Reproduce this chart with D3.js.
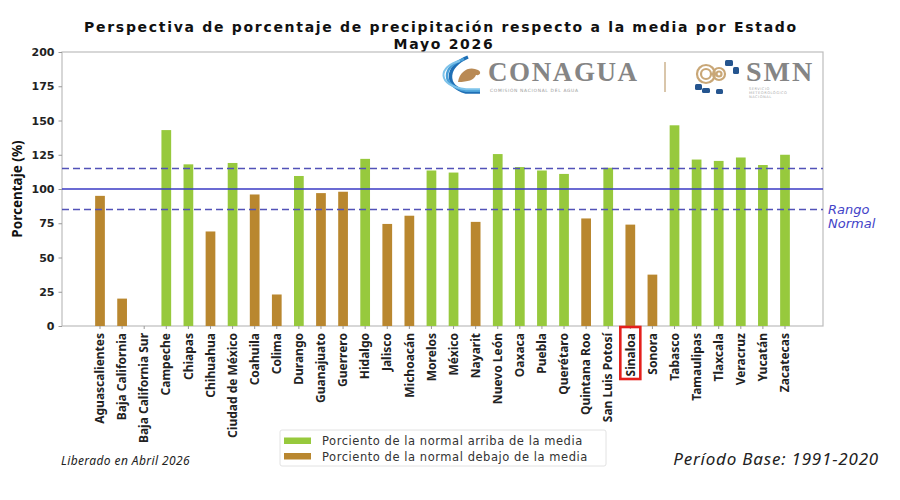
<!DOCTYPE html>
<html lang="es">
<head>
    <meta charset="UTF-8">
    <title>Perspectiva de porcentaje de precipitación</title>
    <script src="https://d3js.org/d3.v7.min.js"></script>
    <style>
        body { margin: 0; background: #fff; }
        .tick-y text { font-family: "DejaVu Sans", sans-serif; font-weight: bold; font-size: 11px; fill: #222; }
        .tick-x text { font-family: "Noto Sans", "Open Sans", sans-serif; font-weight: bold; font-size: 12px; fill: #222; }
        .domain { display: none; }
        .tick line { stroke: #999; }
    </style>
</head>
<body>
<svg id="chart" width="900" height="500"></svg>
<script>
    // Datos
    const estados = ["Aguascalientes", "Baja California", "Baja California Sur", "Campeche", "Chiapas",
        "Chihuahua", "Ciudad de México", "Coahuila", "Colima", "Durango", "Guanajuato", "Guerrero",
        "Hidalgo", "Jalisco", "Michoacán", "Morelos", "México", "Nayarit", "Nuevo León", "Oaxaca",
        "Puebla", "Querétaro", "Quintana Roo", "San Luis Potosí", "Sinaloa", "Sonora", "Tabasco",
        "Tamaulipas", "Tlaxcala", "Veracruz", "Yucatán", "Zacatecas"];
    const porcentajes = [95, 20, 0, 143, 118, 69, 119, 96, 23, 109.5, 97, 98, 122, 74.5, 80.5, 113.5,
        112, 76, 125.5, 116, 113.5, 111, 78.5, 115.5, 74, 37.5, 146.5, 121.5, 120.5, 123, 117.5, 125];
    const yTicks = [0, 25, 50, 75, 100, 125, 150, 175, 200];
    const media = 100;
    const rangoNormal = [85, 115];
    const estadoResaltado = "Sinaloa";

    const VERDE = "#97c93d";
    const CAFE = "#b9872f";

    const M = { left: 62, right: 823, top: 52, bottom: 326 };
    const svg = d3.select("#chart");

    const x = d3.scaleBand().domain(estados).range([M.left, M.right])
        .paddingInner(0.56).paddingOuter(1.5);
    const y = d3.scaleLinear().domain([0, 200]).range([M.bottom, M.top]);

    // Título
    const title = svg.append("text")
        .attr("x", 441).attr("y", 32)
        .attr("text-anchor", "middle")
        .style("font-family", "DejaVu Sans, sans-serif")
        .style("font-weight", "bold")
        .style("font-size", "14px")
        .style("letter-spacing", "1.7px")
        .style("fill", "#111");
    title.append("tspan").attr("x", 441).attr("dy", 0)
        .text("Perspectiva de porcentaje de precipitación respecto a la media por Estado");
    title.append("tspan").attr("x", 444).attr("dy", 16.5).text("Mayo 2026");

    // Marco
    svg.append("rect")
        .attr("x", M.left).attr("y", M.top)
        .attr("width", M.right - M.left).attr("height", M.bottom - M.top)
        .attr("fill", "none").attr("stroke", "#bdbdbd").attr("stroke-width", 1.2);

    // Logos (aproximados)
    const logo = svg.append("g");
    // icono CONAGUA
    [[0, "#1f6fb5", 3.5], [4, "#4aa0d8", 2.5], [8, "#7ec3ea", 2]].forEach(([o, c, w]) => {
        logo.append("path")
            .attr("d", `M${468 - o},${57 + o / 2} C${446 - o},${66} ${444 - o},${86} ${466},${92 - o / 3} L${480},${92 - o / 3}`)
            .attr("fill", "none").attr("stroke", c).attr("stroke-width", w);
    });
    logo.append("path")
        .attr("d", "M458,82 C460,70 470,66 478,70 C482,72 480,76 476,75 C474,80 468,82 458,82 Z")
        .attr("fill", "#b98a55");
    logo.append("text").attr("x", 488).attr("y", 81)
        .style("font-family", "Liberation Serif, serif").style("font-weight", "bold")
        .style("font-size", "27px").style("letter-spacing", "1.6px")
        .style("fill", "#858585").text("CONAGUA");
    logo.append("text").attr("x", 490).attr("y", 92)
        .style("font-family", "DejaVu Sans, sans-serif").style("font-size", "4.4px")
        .style("fill", "#999").style("letter-spacing", "0.7px").text("COMISIÓN NACIONAL DEL AGUA");
    logo.append("line").attr("x1", 665).attr("x2", 665).attr("y1", 62).attr("y2", 92)
        .attr("stroke", "#d9c6ab").attr("stroke-width", 2);
    // icono SMN
    [[706, 74, 9], [706, 74, 5], [719, 74, 6], [719, 74, 2.5]].forEach(([cx, cy, r]) => {
        logo.append("circle").attr("cx", cx).attr("cy", cy).attr("r", r)
            .attr("fill", "none").attr("stroke", "#c9a777").attr("stroke-width", 2.2);
    });
    [[725, 60, 8, 6], [733, 67, 6, 7], [695, 84, 7, 6], [702, 88, 8, 5], [716, 89, 7, 5]].forEach(([rx, ry, w, h]) => {
        logo.append("rect").attr("x", rx).attr("y", ry).attr("width", w).attr("height", h)
            .attr("rx", 1.5).attr("fill", "#25558f");
    });
    logo.append("text").attr("x", 746).attr("y", 81)
        .style("font-family", "Liberation Serif, serif").style("font-weight", "bold")
        .style("font-size", "28px").style("letter-spacing", "2px")
        .style("fill", "#858585").text("SMN");
    ["SERVICIO", "METEOROLÓGICO", "NACIONAL"].forEach((t, i) => {
        logo.append("text").attr("x", 749).attr("y", 90 + i * 4)
            .style("font-family", "DejaVu Sans, sans-serif").style("font-size", "3.6px")
            .style("fill", "#aaa").style("letter-spacing", "0.5px").text(t);
    });

    // Barras
    svg.append("g").selectAll("rect")
        .data(estados)
        .join("rect")
        .attr("x", d => x(d))
        .attr("width", x.bandwidth())
        .attr("y", (d, i) => y(porcentajes[i]))
        .attr("height", (d, i) => y(0) - y(porcentajes[i]))
        .attr("fill", (d, i) => porcentajes[i] > media ? VERDE : CAFE);

    // Líneas de referencia
    svg.append("line")
        .attr("x1", M.left).attr("x2", M.right)
        .attr("y1", y(media)).attr("y2", y(media))
        .attr("stroke", "#3a3ac4").attr("stroke-width", 1.6);
    rangoNormal.forEach(v => {
        svg.append("line")
            .attr("x1", M.left).attr("x2", M.right)
            .attr("y1", y(v)).attr("y2", y(v))
            .attr("stroke", "#5252b8").attr("stroke-width", 1.6)
            .attr("stroke-dasharray", "7,4");
    });
    const rango = svg.append("text")
        .attr("x", 828).attr("y", 214)
        .style("font-family", "DejaVu Sans, sans-serif")
        .style("font-style", "italic")
        .style("font-size", "13px")
        .style("fill", "#4343c8");
    rango.append("tspan").attr("x", 828).attr("dy", 0).text("Rango");
    rango.append("tspan").attr("x", 828).attr("dy", 14).text("Normal");

    // Ejes
    svg.append("g")
        .attr("class", "tick-y")
        .attr("transform", `translate(${M.left},0)`)
        .call(d3.axisLeft(y).tickValues(yTicks).tickSize(3.5).tickPadding(4));

    const xAxis = svg.append("g")
        .attr("class", "tick-x")
        .attr("transform", `translate(0,${M.bottom})`)
        .call(d3.axisBottom(x).tickSize(3).tickPadding(4));
    xAxis.selectAll("text")
        .attr("transform", "rotate(-90)")
        .attr("x", -7).attr("y", 0).attr("dy", "0.35em")
        .style("text-anchor", "end");

    // Recuadro rojo sobre el estado resaltado
    const xs = x(estadoResaltado) + x.bandwidth() / 2;
    svg.append("rect")
        .attr("x", xs - 10).attr("y", 327)
        .attr("width", 20).attr("height", 52)
        .attr("fill", "none").attr("stroke", "#e5201c").attr("stroke-width", 2.6);

    // Etiqueta eje Y
    svg.append("text")
        .attr("transform", `translate(22,${(M.top + M.bottom) / 2}) rotate(-90)`)
        .attr("text-anchor", "middle")
        .style("font-family", "Noto Sans, sans-serif")
        .style("font-weight", "bold")
        .style("font-size", "13.5px")
        .style("fill", "#111")
        .text("Porcentaje (%)");

    // Leyenda
    const leg = svg.append("g").attr("transform", "translate(280,430)");
    leg.append("rect").attr("width", 326).attr("height", 36).attr("rx", 2)
        .attr("fill", "#fff").attr("stroke", "#e2e2e2");
    [["Porciento de la normal arriba de la media", VERDE],
     ["Porciento de la normal debajo de la media", CAFE]].forEach(([t, c], i) => {
        leg.append("rect").attr("x", 4).attr("y", 7.5 + i * 15.5).attr("width", 27).attr("height", 6.5).attr("fill", c);
        leg.append("text").attr("x", 42).attr("y", 15 + i * 15.5)
            .style("font-family", "DejaVu Sans, sans-serif")
            .style("font-size", "11.5px").style("letter-spacing", "0.55px")
            .style("fill", "#333").text(t);
    });

    // Notas
    svg.append("text").attr("x", 61).attr("y", 465)
        .style("font-family", "Noto Sans, sans-serif").style("font-style", "italic")
        .style("font-size", "12px").style("letter-spacing", "0.4px")
        .style("fill", "#222").text("Liberado en Abril 2026");
    svg.append("text").attr("x", 879).attr("y", 465)
        .attr("text-anchor", "end")
        .style("font-family", "Noto Sans, sans-serif").style("font-style", "italic")
        .style("font-size", "17px").style("letter-spacing", "0.8px")
        .style("fill", "#222").text("Período Base: 1991-2020");
</script>
</body>
</html>
